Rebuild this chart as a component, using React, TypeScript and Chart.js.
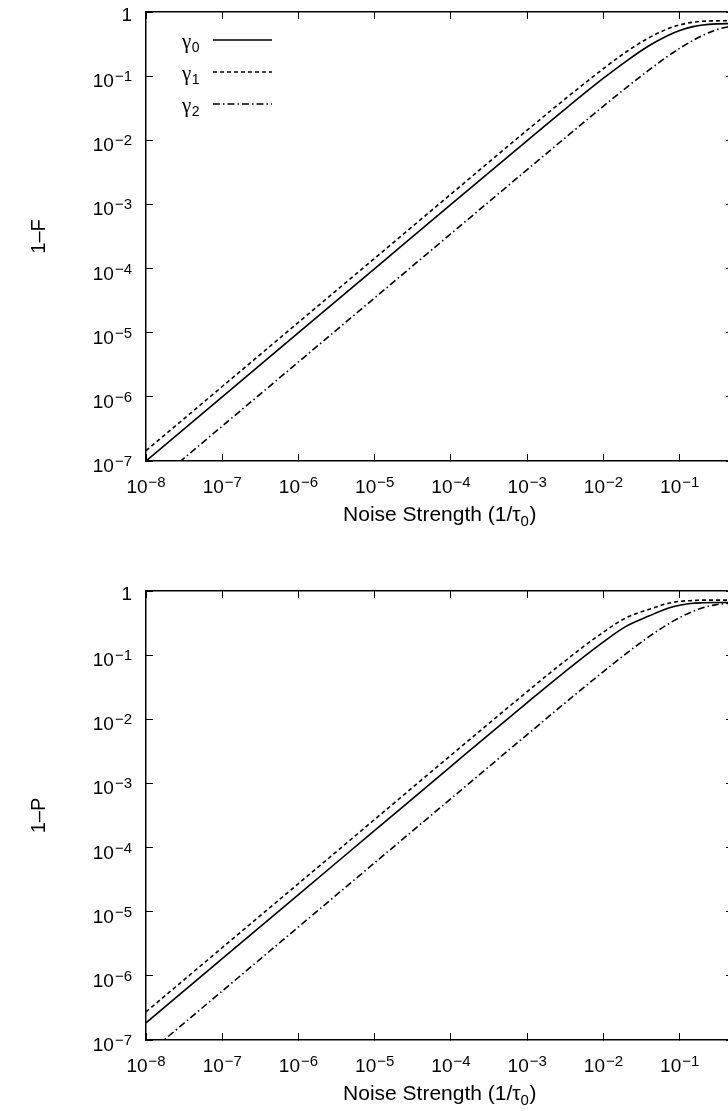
import { useEffect, useRef } from 'react';
import { Chart, registerables } from 'chart.js';

Chart.register(...registerables);

// ---- data ----
const NOISE = [1e-8, 1e-7, 1e-6, 1e-5, 1e-4, 1e-3, 3e-3, 1e-2, 2e-2, 4e-2, 7e-2, 0.1, 0.15, 0.2, 0.3, 0.5];

const F_GAMMA0 = [1.0e-7, 1.0e-6, 1.0e-5, 1.0e-4, 1.0e-3, 0.0099, 0.0293, 0.0928, 0.172, 0.30, 0.431, 0.515, 0.592, 0.628, 0.653, 0.66];
const F_GAMMA1 = [1.45e-7, 1.45e-6, 1.45e-5, 1.45e-4, 1.45e-3, 0.0144, 0.0422, 0.131, 0.24, 0.40, 0.548, 0.63, 0.693, 0.716, 0.728, 0.73];
const F_GAMMA2 = [3.5e-8, 3.5e-7, 3.5e-6, 3.5e-5, 3.5e-4, 0.00349, 0.0104, 0.0341, 0.0664, 0.126, 0.205, 0.272, 0.362, 0.432, 0.526, 0.613];

const P_GAMMA0 = [1.85e-7, 1.85e-6, 1.85e-5, 1.85e-4, 1.85e-3, 0.0182, 0.053, 0.161, 0.283, 0.41, 0.54, 0.60, 0.645, 0.655, 0.66, 0.66];
const P_GAMMA1 = [2.75e-7, 2.75e-6, 2.75e-5, 2.75e-4, 2.75e-3, 0.027, 0.078, 0.229, 0.385, 0.52, 0.64, 0.69, 0.71, 0.72, 0.72, 0.72];
const P_GAMMA2 = [5.8e-8, 5.8e-7, 5.8e-6, 5.8e-5, 5.8e-4, 0.00578, 0.0172, 0.0555, 0.1065, 0.196, 0.303, 0.386, 0.483, 0.546, 0.613, 0.652];

const SERIES_SYMBOL = ['γ', 'γ', 'γ'];
const SERIES_SUB = ['0', '1', '2'];

const X_TICKS = [1e-8, 1e-7, 1e-6, 1e-5, 1e-4, 1e-3, 1e-2, 1e-1];
const X_TICK_BASES = ['10', '10', '10', '10', '10', '10', '10', '10'];
const X_TICK_EXPS = ['−8', '−7', '−6', '−5', '−4', '−3', '−2', '−1'];
const Y_TICKS = [1e-7, 1e-6, 1e-5, 1e-4, 1e-3, 1e-2, 1e-1, 1];
const Y_TICK_BASES = ['10', '10', '10', '10', '10', '10', '10', '1'];
const Y_TICK_EXPS = ['−7', '−6', '−5', '−4', '−3', '−2', '−1', ''];

const X_TITLE_MAIN = 'Noise Strength (1/τ';
const X_TITLE_SUB = '0';
const X_TITLE_END = ')';
const X_MIN = 1e-8;
const X_MAX = 0.5;
const Y_MIN = 1e-7;
const Y_MAX = 1;

// ---- styling ----
const FONT_FAMILY = '"Liberation Sans", Arial, Helvetica, sans-serif';
const DASHES: number[][] = [[], [4, 3], [7, 3, 1.5, 3]];
const CANVAS_W = 760;
const PLOT_RIGHT = 733;

function axisGrid() {
  return { drawOnChartArea: false, drawTicks: true, tickLength: -7, color: '#000', lineWidth: 1 };
}
function axisBorder() {
  return { display: true, color: '#000', width: 1.5 };
}

function drawPower(ctx: CanvasRenderingContext2D, base: string, exp: string, x: number, baseY: number, align: string) {
  ctx.font = `19px ${FONT_FAMILY}`;
  const wb = ctx.measureText(base).width;
  ctx.font = `15px ${FONT_FAMILY}`;
  const we = exp ? ctx.measureText(exp).width + 1 : 0;
  const total = wb + we;
  const left = align === 'center' ? x - total / 2 : x - total;
  ctx.textAlign = 'left';
  ctx.textBaseline = 'alphabetic';
  ctx.font = `19px ${FONT_FAMILY}`;
  ctx.fillText(base, left, baseY);
  if (exp) {
    ctx.font = `15px ${FONT_FAMILY}`;
    ctx.fillText(exp, left + wb + 1, baseY - 6);
  }
}

function buildConfig(series: number[][], yTitle: string, showLegend: boolean, padTop: number, xAxisH: number) {
  const datasets = series.map((vals, i) => ({
    label: SERIES_SYMBOL[i] + SERIES_SUB[i],
    data: NOISE.map((x, j) => ({ x, y: vals[j] })),
    borderColor: '#000',
    backgroundColor: '#000',
    borderWidth: 1.6,
    borderDash: DASHES[i],
    pointRadius: 0,
    cubicInterpolationMode: 'monotone',
    fill: false,
  }));

  const textPlugin = {
    id: 'richText',
    afterDraw(chart: any) {
      const { ctx, chartArea } = chart;
      const xs = chart.scales.x;
      const ys = chart.scales.y;
      ctx.save();
      ctx.fillStyle = '#000';
      X_TICKS.forEach((v, i) => {
        drawPower(ctx, X_TICK_BASES[i], X_TICK_EXPS[i], xs.getPixelForValue(v), xs.top + 32, 'center');
      });
      Y_TICKS.forEach((v, i) => {
        const off = Y_TICK_EXPS[i] ? 11 : 9;
        drawPower(ctx, Y_TICK_BASES[i], Y_TICK_EXPS[i], ys.right - 14, ys.getPixelForValue(v) + off, 'right');
      });
      // x title with subscript
      const big = `21px ${FONT_FAMILY}`;
      const small = `15px ${FONT_FAMILY}`;
      ctx.font = big;
      const w1 = ctx.measureText(X_TITLE_MAIN).width;
      const w3 = ctx.measureText(X_TITLE_END).width;
      ctx.font = small;
      const w2 = ctx.measureText(X_TITLE_SUB).width;
      const cx = (chartArea.left + chartArea.right) / 2;
      const left = cx - (w1 + w2 + w3) / 2;
      const by = xs.top + 60;
      ctx.textAlign = 'left';
      ctx.textBaseline = 'alphabetic';
      ctx.font = big;
      ctx.fillText(X_TITLE_MAIN, left, by);
      ctx.font = small;
      ctx.fillText(X_TITLE_SUB, left + w1, by + 5);
      ctx.font = big;
      ctx.fillText(X_TITLE_END, left + w1 + w2 + 0.5, by);

      if (showLegend) {
        chart.data.datasets.forEach((ds: any, i: number) => {
          const y = chartArea.top + 28 + i * 32;
          ctx.font = `21px "Liberation Serif", "DejaVu Serif", serif`;
          ctx.fillText(SERIES_SYMBOL[i], chartArea.left + 36, y + 8);
          const gw = ctx.measureText(SERIES_SYMBOL[i]).width;
          ctx.font = `14px ${FONT_FAMILY}`;
          ctx.fillText(SERIES_SUB[i], chartArea.left + 36 + gw + 0.5, y + 12);
          ctx.strokeStyle = '#000';
          ctx.lineWidth = ds.borderWidth;
          ctx.setLineDash(ds.borderDash || []);
          ctx.beginPath();
          ctx.moveTo(chartArea.left + 67, y);
          ctx.lineTo(chartArea.left + 126, y);
          ctx.stroke();
          ctx.setLineDash([]);
        });
      }
      ctx.restore();
    },
  };

  const xTicksBuild = (s: any) => {
    s.ticks = X_TICKS.map((v) => ({ value: v }));
  };
  const yTicksBuild = (s: any) => {
    s.ticks = Y_TICKS.map((v) => ({ value: v }));
  };

  return {
    type: 'line',
    data: { datasets },
    plugins: [textPlugin],
    options: {
      animation: false,
      responsive: false,
      maintainAspectRatio: false,
      devicePixelRatio: 1,
      layout: { padding: { left: 0, top: padTop, right: CANVAS_W - PLOT_RIGHT, bottom: 0 } },
      plugins: { legend: { display: false }, tooltip: { enabled: false } },
      scales: {
        x: {
          type: 'logarithmic',
          position: 'bottom',
          min: X_MIN,
          max: X_MAX,
          afterBuildTicks: xTicksBuild,
          afterFit: (s: any) => { s.height = xAxisH; },
          ticks: { display: false },
          grid: axisGrid(),
          border: axisBorder(),
        },
        x2: {
          type: 'logarithmic',
          position: 'top',
          min: X_MIN,
          max: X_MAX,
          afterBuildTicks: xTicksBuild,
          afterFit: (s: any) => { s.height = 0; },
          ticks: { display: false },
          grid: axisGrid(),
          border: axisBorder(),
        },
        y: {
          type: 'logarithmic',
          position: 'left',
          min: Y_MIN,
          max: Y_MAX,
          afterBuildTicks: yTicksBuild,
          afterFit: (s: any) => { s.width = 146; },
          ticks: { display: false },
          grid: axisGrid(),
          border: axisBorder(),
          title: { display: true, text: yTitle, color: '#000', font: { family: FONT_FAMILY, size: 20 }, padding: { top: 27, bottom: 0 } },
        },
        y2: {
          type: 'logarithmic',
          position: 'right',
          min: Y_MIN,
          max: Y_MAX,
          afterBuildTicks: yTicksBuild,
          afterFit: (s: any) => { s.width = 0; },
          ticks: { display: false },
          grid: axisGrid(),
          border: axisBorder(),
        },
      },
    },
  };
}

function Panel(props: { series: number[][]; yTitle: string; legend: boolean; top: number; height: number; padTop: number; xAxisH: number }) {
  const ref = useRef<HTMLCanvasElement | null>(null);
  useEffect(() => {
    if (!ref.current) return;
    const chart = new Chart(ref.current, buildConfig(props.series, props.yTitle, props.legend, props.padTop, props.xAxisH) as any);
    return () => chart.destroy();
  }, []);
  return (
    <canvas
      ref={ref}
      width={CANVAS_W}
      height={props.height}
      style={{ position: 'absolute', left: 0, top: props.top, width: CANVAS_W, height: props.height }}
    />
  );
}

export default function App() {
  return (
    <div style={{ position: 'absolute', left: 0, top: 0, width: 728, height: 1113, overflow: 'hidden', background: '#fff' }}>
      <Panel series={[F_GAMMA0, F_GAMMA1, F_GAMMA2]} yTitle="1–F" legend={true} top={0} height={556} padTop={12} xAxisH={95} />
      <Panel series={[P_GAMMA0, P_GAMMA1, P_GAMMA2]} yTitle="1–P" legend={false} top={556} height={557} padTop={35} xAxisH={73} />
    </div>
  );
}
